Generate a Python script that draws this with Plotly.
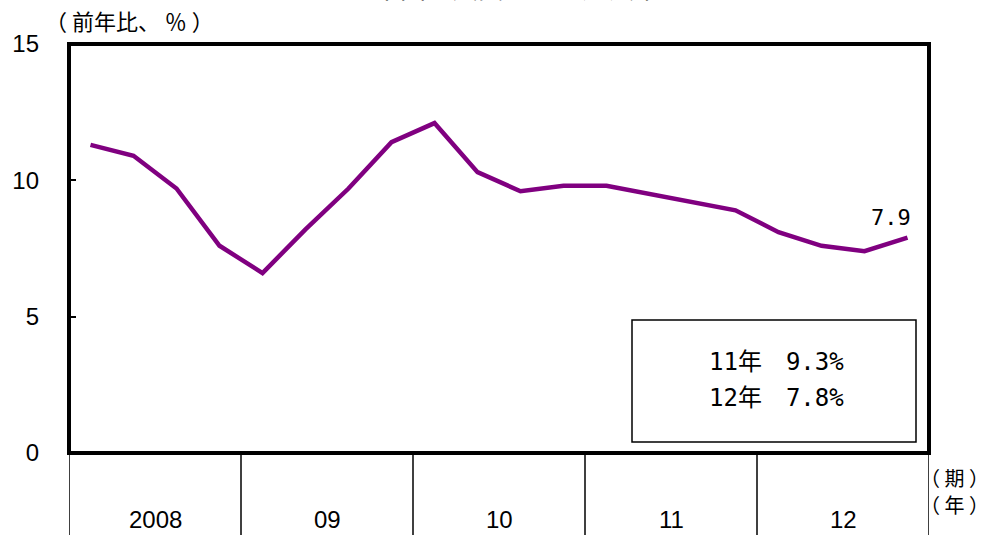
import plotly.graph_objects as go

years = ["2008", "09", "10", "11", "12"]
quarters_per_year = 4
gdp_growth = [11.3, 10.9, 9.7, 7.6, 6.6, 8.2, 9.7, 11.4, 12.1, 10.3,
              9.6, 9.8, 9.8, 9.5, 9.2, 8.9, 8.1, 7.6, 7.4, 7.9]
annual_labels = ["11年　9.3%", "12年　7.8%"]
y_ticks = [0, 5, 10, 15]

x_idx = list(range(len(gdp_growth)))

W, H = 988, 535
L, R, T, B = 69, 929, 44, 453
pw, ph = R - L, B - T

def px(xp):
    return (xp - L) / pw

def py(yp):
    return (B - yp) / ph

CJK = "Noto Sans CJK JP"
MONO = "DejaVu Sans Mono, Noto Sans CJK JP"

fig = go.Figure()
fig.add_trace(go.Scatter(
    x=x_idx, y=gdp_growth, mode="lines",
    line=dict(color="#800080", width=4.5),
    hoverinfo="skip", showlegend=False))

shapes = []
shapes.append(dict(type="rect", xref="paper", yref="paper", x0=0, x1=1, y0=0, y1=1,
                   line=dict(color="black", width=4), layer="above"))
n = len(years)
for i in range(n + 1):
    xs = i * quarters_per_year - 0.5
    shapes.append(dict(type="line", xref="x", yref="paper", x0=xs, x1=xs,
                       y0=0, y1=-(H - B) / ph, line=dict(color="black", width=1.5)))
shapes.append(dict(type="rect", xref="paper", yref="paper",
                   x0=px(632), x1=px(916), y0=py(442), y1=py(320),
                   line=dict(color="black", width=1.5), fillcolor="white"))

def ann(xp, yp, text, font, **kw):
    d = dict(x=px(xp), y=py(yp), xref="paper", yref="paper", text=text,
             showarrow=False, xanchor="center", yanchor="middle", font=font)
    d.update(kw)
    return d

annotations = []
for i, yr in enumerate(years):
    annotations.append(dict(x=i * quarters_per_year + 1.5, y=py(519), xref="x", yref="paper",
                            text=yr, showarrow=False, xanchor="center", yanchor="middle",
                            font=dict(family="Liberation Sans", size=24, color="black")))
annotations.append(ann(776, 362, annual_labels[0], dict(family=MONO, size=24, color="black")))
annotations.append(ann(776, 398, annual_labels[1], dict(family=MONO, size=24, color="black")))
annotations.append(dict(x=x_idx[-1], y=gdp_growth[-1], xref="x", yref="y",
                        text=f"{gdp_growth[-1]}", showarrow=False, xanchor="center",
                        yanchor="middle", yshift=20, xshift=-17,
                        font=dict(family="DejaVu Sans Mono", size=22, color="black")))
annotations.append(ann(129, 20, "（ 前年比、 ％ ）", dict(family=CJK, size=22, color="black")))
annotations.append(ann(954, 478, "（ 期 ）", dict(family=CJK, size=20, color="black")))
annotations.append(ann(954, 505, "（ 年 ）", dict(family=CJK, size=20, color="black")))
annotations.append(dict(x=px(517), y=py(7), xref="paper", yref="paper",
                        text="中国の実質ＧＤＰ成長率", showarrow=False,
                        xanchor="center", yanchor="bottom",
                        font=dict(family=CJK, size=26, color="black")))

fig.update_layout(
    width=W, height=H,
    margin=dict(l=L, r=W - R, t=T, b=H - B, pad=0),
    paper_bgcolor="white", plot_bgcolor="white",
    xaxis=dict(range=[-0.5, len(gdp_growth) - 0.5], showticklabels=False, ticks="",
               showgrid=False, zeroline=False, showline=False),
    yaxis=dict(range=[0, 15], tickvals=y_ticks, ticks="inside", ticklen=7, tickwidth=2,
               tickcolor="black", showgrid=False, zeroline=False, showline=False,
               ticklabelstandoff=29,
               tickfont=dict(family="Liberation Sans", size=24, color="black")),
    shapes=shapes, annotations=annotations,
)

fig.write_html("out.html")
